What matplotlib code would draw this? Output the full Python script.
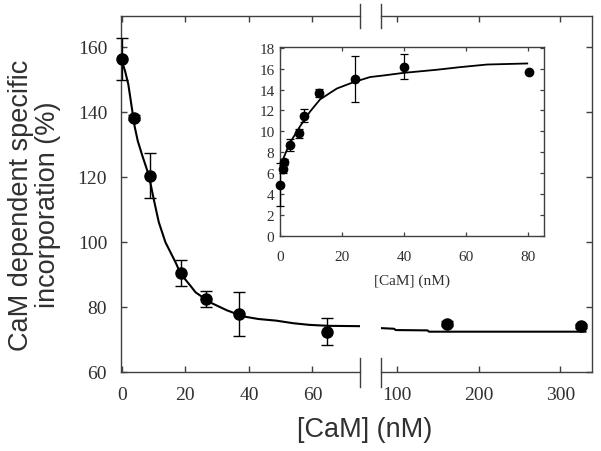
import numpy as np
import matplotlib
matplotlib.use('Agg')
import matplotlib.pyplot as plt

# main plot data
low_x = [0, 3.8, 8.8, 18.6, 26.4, 37.0, 64.6]
low_y = [156.2, 138.2, 120.4, 90.5, 82.5, 77.8, 72.4]
low_err = [6.5, 0.8, 7.0, 4.0, 2.4, 6.7, 4.1]

high_x = [161.6, 325.6]
high_y = [74.8, 74.1]
high_err = [0.8, 0.6]

fit_low_x = [0, 1, 2, 3, 4, 5, 6.4, 8.5, 10, 11.6, 13.7, 16.9, 18.5, 21.6, 23.2,
             27.8, 33, 38.2, 43, 48.6, 54, 59, 65, 74.7]
fit_low_y = [155.5, 152.5, 148.5, 142, 135.5, 131, 126.6, 120.4, 113.2, 106.1, 99.9,
             93.7, 90.2, 86.5, 84.5, 81.4, 79.0, 77.1, 76.3, 75.8, 75.0, 74.5, 74.2, 74.1]
fit_high_x = [79.6, 96, 98, 137, 139, 331]
fit_high_y = [73.5, 73.3, 72.9, 72.8, 72.4, 72.4]

# inset data
ins_x = [0, 1.1, 1.3, 3.2, 6.2, 7.8, 12.7, 24.2, 39.8, 80.3]
ins_y = [4.9, 6.4, 7.05, 8.7, 9.8, 11.5, 13.7, 15.0, 16.2, 15.7]
ins_err = [2.1, 0.4, 0.3, 0.55, 0.45, 0.6, 0.4, 2.2, 1.2, 0.0]

fit_ins_x = [0.5, 3.2, 6.5, 9.7, 12.9, 18.3, 23.6, 29, 33.3, 39.8, 50.5, 58, 66.7, 79.6]
fit_ins_y = [7.0, 8.9, 10.5, 11.9, 13.06, 14.1, 14.7, 15.2, 15.35, 15.6, 15.9, 16.15, 16.4, 16.5]

SPINE = '#404040'
TXT = '#303030'
SERIF = ['Liberation Serif', 'DejaVu Serif']
SANS = ['Liberation Sans', 'DejaVu Sans']

fig = plt.figure(figsize=(6.01, 4.52), dpi=100)
ax1 = fig.add_axes([121 / 601, 79 / 452, 239 / 601, 356 / 452])
ax2 = fig.add_axes([380.7 / 601, 79 / 452, 211.3 / 601, 356 / 452])

eb = dict(fmt='o', color='black', ms=8, capsize=4, elinewidth=1.0, capthick=1.0,
          clip_on=False, zorder=3)
ax1.plot(fit_low_x, fit_low_y, color='black', lw=1.5)
ax1.errorbar(low_x, low_y, yerr=low_err, **eb)
ax2.plot(fit_high_x, fit_high_y, color='black', lw=1.5)
ax2.errorbar(high_x, high_y, yerr=high_err, **eb)

ax1.set_xlim(-0.3, 75)
ax2.set_xlim(79.6, 339)
for ax in (ax1, ax2):
    ax.set_ylim(60, 169.5)
    for s in ax.spines.values():
        s.set_color(SPINE)
        s.set_linewidth(1.0)
    ax.tick_params(direction='in', length=4, width=1.0, color=SPINE,
                   labelsize=14, labelcolor=TXT, pad=10)

ax1.spines['right'].set_visible(False)
ax2.spines['left'].set_visible(False)
ax1.set_xticks([0, 20, 40, 60])
ax1.set_yticks([60, 80, 100, 120, 140, 160])
ax1.tick_params(top=True, right=False)
ax2.set_xticks([100, 200, 300])
ax2.set_yticks([60, 80, 100, 120, 140, 160])
ax2.tick_params(top=True, left=False, labelleft=False, right=True)
for ax in (ax1, ax2):
    for lab in ax.get_xticklabels() + ax.get_yticklabels():
        lab.set_family(SERIF)

# axis break marks
for ax, xb in ((ax1, 1.0), (ax2, 0.0)):
    for y0, y1 in ((-0.042, 0.040), (0.966, 1.034)):
        ax.plot([xb, xb], [y0, y1], transform=ax.transAxes, color=SPINE,
                lw=1.0, clip_on=False)

fig.text(35 / 601, 1 - 205 / 452, 'CaM dependent specific\nincorporation (%)',
         rotation=90, ha='center', va='center', fontsize=19.5, family=SANS,
         color=TXT, linespacing=1.05, multialignment='center')
fig.text(365 / 601, 1 - 430 / 452, '[CaM] (nM)', ha='center', va='center',
         fontsize=19.5, family=SANS, color=TXT)

# inset
axi = fig.add_axes([280 / 601, 1 - 236.7 / 452, 264 / 601, 188.4 / 452])
axi.plot(fit_ins_x, fit_ins_y, color='black', lw=1.3)
axi.errorbar(ins_x, ins_y, yerr=ins_err, fmt='o', color='black', ms=6, capsize=3,
             elinewidth=0.9, capthick=0.9, clip_on=False, zorder=3)
axi.set_xlim(0, 85)
axi.set_ylim(0, 18.05)
axi.set_xticks([0, 20, 40, 60, 80])
axi.set_yticks(np.arange(0, 19, 2))
for s in axi.spines.values():
    s.set_color(SPINE)
    s.set_linewidth(1.0)
axi.tick_params(direction='in', length=3, width=0.9, color=SPINE, labelsize=11,
                labelcolor=TXT, top=True, right=True)
axi.tick_params(axis='x', pad=10)
axi.tick_params(axis='y', pad=4)
for lab in axi.get_xticklabels() + axi.get_yticklabels():
    lab.set_family(SERIF)
axi.set_xlabel('[CaM] (nM)', fontsize=11, family=SERIF, color=TXT, labelpad=8)

fig.savefig('out.png', dpi=100)
